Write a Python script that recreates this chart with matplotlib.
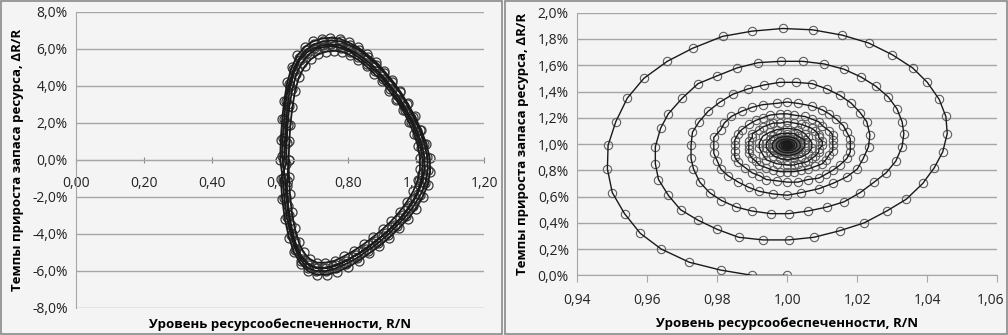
import numpy as np
import matplotlib
matplotlib.use('Agg')
import matplotlib.pyplot as plt
import matplotlib.transforms as mtransforms
from matplotlib.ticker import FuncFormatter, MultipleLocator
from matplotlib.patches import Rectangle

plt.rcParams['font.family'] = ['Open Sans', 'DejaVu Sans']

# ---- left panel: limit cycle, several turns (R/N, dR/R in %)
loop_b_x = [0.612, 0.614, 0.617, 0.622, 0.630, 0.642, 0.658, 0.678, 0.700, 0.725, 0.750, 0.775, 0.800, 0.826, 0.852,
            0.877, 0.900, 0.922, 0.945, 0.965, 0.985, 1.003, 1.016, 1.024, 1.025, 1.018, 1.004, 0.985, 0.962, 0.937,
            0.910, 0.882, 0.853, 0.823, 0.793, 0.763, 0.735, 0.708, 0.685, 0.665, 0.648, 0.635, 0.625, 0.618, 0.614]
loop_b_y = [0.0, 1.0, 2.0, 3.0, 4.0, 4.8, 5.4, 5.8, 6.05, 6.2, 6.25, 6.2, 6.0, 5.75, 5.4,
            5.0, 4.55, 4.05, 3.5, 2.9, 2.25, 1.55, 0.85, 0.15, -0.55, -1.2, -1.85, -2.45, -3.0, -3.5,
            -3.95, -4.4, -4.8, -5.15, -5.45, -5.7, -5.85, -5.85, -5.7, -5.35, -4.8, -4.0, -3.0, -2.0, -1.0]
loop_d_x = [0.606, 0.608, 0.612, 0.617, 0.626, 0.639, 0.656, 0.677, 0.700, 0.726, 0.752, 0.778, 0.804, 0.831, 0.858,
            0.883, 0.906, 0.928, 0.951, 0.972, 0.992, 1.010, 1.024, 1.033, 1.034, 1.027, 1.012, 0.992, 0.969, 0.943,
            0.916, 0.887, 0.857, 0.826, 0.795, 0.764, 0.735, 0.706, 0.682, 0.662, 0.645, 0.631, 0.620, 0.612, 0.608]
loop_d_y = [0.2, 1.2, 2.2, 3.2, 4.1, 4.9, 5.5, 5.95, 6.25, 6.4, 6.45, 6.4, 6.2, 5.95, 5.55,
            5.15, 4.7, 4.2, 3.65, 3.0, 2.3, 1.6, 0.85, 0.15, -0.55, -1.25, -1.9, -2.5, -3.05, -3.55,
            -4.05, -4.5, -4.9, -5.3, -5.6, -5.85, -6.0, -6.0, -5.85, -5.45, -4.85, -4.05, -3.1, -2.05, -1.0]
loop_a_x = [0.600, 0.602, 0.606, 0.612, 0.621, 0.634, 0.651, 0.672, 0.696, 0.722, 0.748, 0.775, 0.801, 0.828, 0.856,
            0.882, 0.906, 0.929, 0.953, 0.975, 0.996, 1.015, 1.030, 1.040, 1.041, 1.034, 1.019, 0.999, 0.975, 0.949,
            0.921, 0.892, 0.862, 0.831, 0.799, 0.767, 0.737, 0.707, 0.681, 0.660, 0.641, 0.626, 0.614, 0.606, 0.602]
loop_a_y = [0.0, 1.1, 2.2, 3.2, 4.2, 5.0, 5.65, 6.1, 6.4, 6.55, 6.6, 6.55, 6.35, 6.1, 5.7,
            5.3, 4.8, 4.3, 3.7, 3.05, 2.35, 1.6, 0.85, 0.1, -0.65, -1.35, -2.0, -2.65, -3.2, -3.7,
            -4.2, -4.65, -5.05, -5.45, -5.8, -6.05, -6.2, -6.2, -6.0, -5.6, -5.0, -4.2, -3.2, -2.1, -1.05]
loop_e_x = [0.618, 0.619, 0.622, 0.627, 0.636, 0.648, 0.664, 0.684, 0.706, 0.730, 0.755, 0.780, 0.805, 0.830, 0.855,
            0.879, 0.902, 0.924, 0.945, 0.966, 0.985, 1.001, 1.013, 1.019, 1.018, 1.010, 0.995, 0.976, 0.953, 0.928,
            0.901, 0.872, 0.843, 0.813, 0.784, 0.755, 0.727, 0.701, 0.678, 0.659, 0.644, 0.632, 0.624, 0.620]
loop_e_y = [-0.2, 0.9, 1.9, 2.9, 3.85, 4.65, 5.25, 5.7, 6.0, 6.1, 6.15, 6.05, 5.85, 5.55, 5.2,
            4.8, 4.35, 3.85, 3.3, 2.7, 2.05, 1.35, 0.65, -0.05, -0.75, -1.4, -2.05, -2.6, -3.15, -3.65,
            -4.1, -4.5, -4.9, -5.25, -5.55, -5.75, -5.85, -5.8, -5.55, -5.1, -4.4, -3.5, -2.5, -1.4]
loop_c_x = [0.625, 0.627, 0.630, 0.636, 0.644, 0.656, 0.672, 0.691, 0.712, 0.735, 0.758, 0.782, 0.806, 0.830, 0.854,
            0.877, 0.899, 0.920, 0.941, 0.960, 0.978, 0.994, 1.005, 1.011, 1.011, 1.004, 0.991, 0.973, 0.951, 0.927,
            0.901, 0.874, 0.846, 0.817, 0.788, 0.760, 0.733, 0.708, 0.687, 0.669, 0.655, 0.643, 0.634, 0.629, 0.626, 0.625]
loop_c_y = [0.0, 1.0, 1.9, 2.85, 3.75, 4.5, 5.05, 5.45, 5.7, 5.85, 5.9, 5.85, 5.65, 5.4, 5.05,
            4.65, 4.25, 3.75, 3.25, 2.7, 2.05, 1.4, 0.75, 0.1, -0.5, -1.1, -1.7, -2.25, -2.8, -3.3,
            -3.75, -4.15, -4.55, -4.9, -5.2, -5.45, -5.55, -5.55, -5.35, -5.0, -4.45, -3.7, -2.8, -1.85, -0.9, 0.0]

# ---- right panel: damped spiral towards (1.00; 1.0%)
spiral_x = [
    # turn 1
    1.000, 0.990, 0.981, 0.972, 0.964, 0.958, 0.9535, 0.950, 0.9486, 0.9488, 0.951, 0.9543, 0.959, 0.9657, 0.973,
    0.9815, 0.990, 0.9987, 1.0072, 1.0156, 1.0232, 1.030, 1.0358, 1.040, 1.0434, 1.0453, 1.0457, 1.0444, 1.042,
    1.0387, 1.034, 1.0284, 1.022, 1.015, 1.0076,
    # turn 2
    1.0004, 0.9931, 0.9861, 0.980, 0.9745, 0.9695, 0.966, 0.9632, 0.9623, 0.9623, 0.9638, 0.966, 0.970, 0.9745,
    0.980, 0.9857, 0.9917, 0.9981, 1.0044, 1.0105, 1.0162, 1.0211, 1.0253, 1.0288, 1.0313, 1.0328, 1.0333, 1.0328,
    1.0310, 1.0282, 1.0248, 1.0208, 1.0162, 1.0113, 1.0059,
    # turn 3
    1.0004, 0.9953, 0.9899, 0.9854, 0.9812, 0.9778, 0.975, 0.9732, 0.9725, 0.9725, 0.9729, 0.9748, 0.9774, 0.9808,
    0.9845, 0.9888, 0.9934, 0.9979, 1.0025, 1.0071, 1.0113, 1.0151, 1.0183, 1.0208, 1.0227, 1.0236, 1.0232, 1.0217,
    1.020, 1.017, 1.013, 1.009, 1.004,
    # turn 4
    1.000, 0.996, 0.992, 0.989, 0.986, 0.983, 0.981, 0.980, 0.979, 0.979, 0.979, 0.981, 0.982, 0.984, 0.987, 0.990,
    0.993, 0.997, 1.000, 1.003, 1.007, 1.010, 1.012, 1.014, 1.016, 1.017, 1.018, 1.018, 1.018, 1.017, 1.015, 1.013,
    1.011, 1.009, 1.006, 1.003,
    # turn 5
    1.000, 0.997, 0.994, 0.992, 0.990, 0.988, 0.986, 0.985, 0.985, 0.985, 0.985, 0.986, 0.987, 0.989, 0.991, 0.993,
    0.995, 0.998, 1.000, 1.002, 1.005, 1.007, 1.009, 1.010, 1.012, 1.013, 1.013, 1.013, 1.013, 1.012, 1.011, 1.010,
    1.008, 1.006, 1.004, 1.002,
    # turn 6
    1.000, 0.998, 0.996, 0.994, 0.992, 0.991, 0.990, 0.989, 0.989, 0.989, 0.989, 0.990, 0.990, 0.992, 0.993, 0.995,
    0.996, 0.998, 1.000, 1.002, 1.004, 1.005, 1.007, 1.008, 1.009, 1.009, 1.010, 1.010, 1.009, 1.009, 1.008, 1.007,
    1.006, 1.005, 1.003, 1.002,
    # turn 7
    1.000, 0.997, 0.994, 0.993, 0.992, 0.992, 0.993, 0.995, 0.997, 1.000, 1.003, 1.005, 1.006, 1.007, 1.007, 1.006,
    1.004, 1.002,
    # turn 8
    1.000, 0.998, 0.996, 0.995, 0.994, 0.994, 0.995, 0.996, 0.998, 1.000, 1.002, 1.003, 1.005, 1.005, 1.005, 1.004,
    1.003, 1.002,
    # turn 9
    1.000, 0.9984, 0.9971, 0.9962, 0.9957, 0.9957, 0.9963, 0.9973, 0.9986, 1.000, 1.0014, 1.0025, 1.0033, 1.0037,
    1.0037, 1.0032, 1.0023, 1.0012,
    # turn 10
    1.000, 0.9988, 0.9979, 0.9972, 0.9969, 0.9969, 0.9973, 0.9980, 0.9990, 1.000, 1.0010, 1.0018, 1.0024, 1.0027,
    1.0027, 1.0023, 1.0017, 1.0009,
    # turn 11
    1.000, 0.9991, 0.9985, 0.9980, 0.9977, 0.9977, 0.9980, 0.9985, 0.9993, 1.000, 1.0007, 1.0013, 1.0018, 1.0020,
    1.0020, 1.0017, 1.0012, 1.0007,
    # turn 12
    1.000, 0.9993, 0.9989, 0.9985, 0.9983, 0.9983, 0.9985, 0.9989, 0.9995, 1.000, 1.0005, 1.0009, 1.0013, 1.0015,
    1.0015, 1.0012, 1.0009, 1.0005,
    # turn 13
    1.000, 0.9995, 0.9992, 0.9989, 0.9988, 0.9988, 0.9989, 0.9992, 0.9996, 1.000, 1.0004, 1.0007, 1.0009, 1.0011,
    1.0011, 1.0009, 1.0007, 1.0004,
    # turn 14 and the end
    1.000, 0.9996, 0.9994, 0.9992, 0.9991, 0.9991, 0.9992, 0.9994, 0.9997, 1.000, 1.0003, 1.0005, 1.0007, 1.0008,
    1.0008, 1.0007, 1.0005, 1.0003,
    1.000, 0.9997, 0.9995, 0.9994, 0.9996, 1.000, 1.0004, 1.0005, 1.0003, 1.000, 1.000]
spiral_y = [
    0.00, 0.00, 0.04, 0.10, 0.20, 0.32, 0.47, 0.63, 0.81, 0.99, 1.17, 1.35, 1.50, 1.63, 1.73,
    1.82, 1.86, 1.88, 1.87, 1.83, 1.77, 1.68, 1.58, 1.47, 1.34, 1.21, 1.08, 0.94, 0.82,
    0.70, 0.58, 0.49, 0.40, 0.34, 0.29,
    0.27, 0.27, 0.29, 0.35, 0.42, 0.50, 0.61, 0.73, 0.85, 0.98, 1.12, 1.23, 1.35, 1.46,
    1.52, 1.58, 1.62, 1.63, 1.63, 1.61, 1.57, 1.51, 1.44, 1.36, 1.27, 1.17, 1.08, 0.98,
    0.87, 0.78, 0.71, 0.63, 0.56, 0.52, 0.49,
    0.47, 0.47, 0.49, 0.52, 0.57, 0.63, 0.71, 0.81, 0.89, 0.99, 1.09, 1.17, 1.25, 1.32,
    1.38, 1.42, 1.45, 1.47, 1.47, 1.46, 1.42, 1.37, 1.31, 1.24, 1.17, 1.07, 0.98, 0.89,
    0.81, 0.75, 0.70, 0.66, 0.63,
    0.61, 0.62, 0.64, 0.67, 0.71, 0.76, 0.81, 0.87, 0.93, 0.99, 1.05, 1.11, 1.16, 1.21, 1.25, 1.28,
    1.30, 1.31, 1.32, 1.31, 1.29, 1.26, 1.23, 1.19, 1.14, 1.09, 1.04, 0.99, 0.94, 0.89, 0.84, 0.80,
    0.77, 0.74, 0.73, 0.71,
    0.71, 0.72, 0.73, 0.76, 0.78, 0.82, 0.86, 0.90, 0.95, 0.99, 1.03, 1.08, 1.11, 1.15, 1.18, 1.20,
    1.22, 1.23, 1.23, 1.22, 1.21, 1.19, 1.17, 1.14, 1.10, 1.07, 1.03, 0.99, 0.95, 0.92, 0.88, 0.85,
    0.83, 0.81, 0.80, 0.79,
    0.79, 0.79, 0.80, 0.82, 0.84, 0.87, 0.89, 0.93, 0.96, 0.99, 1.02, 1.05, 1.08, 1.11, 1.13, 1.15,
    1.16, 1.16, 1.17, 1.16, 1.15, 1.14, 1.12, 1.10, 1.07, 1.05, 1.02, 0.99, 0.96, 0.94, 0.91, 0.89,
    0.87, 0.86, 0.85, 0.84,
    0.84, 0.85, 0.88, 0.92, 0.97, 1.01, 1.06, 1.09, 1.11, 1.12, 1.11, 1.08, 1.05, 1.01, 0.97, 0.93,
    0.90, 0.89,
    0.88, 0.89, 0.91, 0.94, 0.97, 1.01, 1.04, 1.06, 1.08, 1.08, 1.08, 1.06, 1.03, 1.01, 0.98, 0.95,
    0.93, 0.92,
    0.912, 0.918, 0.933, 0.953, 0.977, 1.003, 1.025, 1.044, 1.054, 1.057, 1.052, 1.040, 1.022, 1.001,
    0.979, 0.959, 0.945, 0.935,
    0.933, 0.937, 0.948, 0.963, 0.9805, 0.9995, 1.016, 1.029, 1.037, 1.039, 1.035, 1.027, 1.013, 0.998,
    0.982, 0.967, 0.957, 0.950,
    0.948, 0.951, 0.959, 0.970, 0.983, 0.997, 1.009, 1.018, 1.024, 1.026, 1.023, 1.017, 1.007, 0.996,
    0.984, 0.973, 0.966, 0.961,
    0.959, 0.962, 0.967, 0.975, 0.985, 0.995, 1.004, 1.010, 1.015, 1.016, 1.014, 1.010, 1.002, 0.994,
    0.986, 0.978, 0.972, 0.969,
    0.968, 0.970, 0.973, 0.979, 0.986, 0.994, 1.000, 1.005, 1.008, 1.009, 1.008, 1.004, 0.999, 0.993,
    0.987, 0.981, 0.977, 0.975,
    0.974, 0.975, 0.978, 0.982, 0.987, 0.993, 0.997, 1.001, 1.003, 1.004, 1.003, 1.000, 0.997, 0.992,
    0.988, 0.983, 0.980, 0.979,
    0.979, 0.981, 0.986, 0.990, 0.996, 0.999, 0.997, 0.990, 0.984, 0.982, 0.990]

left_x = loop_b_x + loop_d_x + loop_a_x + loop_e_x + loop_c_x
left_y = loop_b_y + loop_d_y + loop_a_y + loop_e_y + loop_c_y

xlabel = 'Уровень ресурсообеспеченности, R/N'
ylabel = 'Темпы прироста запаса ресурса, ΔR/R'

bg = '#f4f4f4'
grid_c = '#a6a6a6'
line_c = '#1a1a1a'
mark_c = '#5e5e5e'

fig = plt.figure(figsize=(10.08, 3.35), dpi=100)
fig.patch.set_facecolor(bg)

def pct(v, pos):
    return ('%.1f%%' % v).replace('.', ',')

def dec(v, pos):
    return ('%.2f' % v).replace('.', ',')

def style(ax):
    ax.set_facecolor(bg)
    for s in ['top', 'right']:
        ax.spines[s].set_visible(False)
    ax.spines['left'].set_color(grid_c)
    ax.spines['bottom'].set_color(grid_c)
    ax.yaxis.grid(True, color=grid_c, lw=1)
    ax.set_axisbelow(True)
    ax.tick_params(axis='y', length=0, labelsize=10, pad=6, colors='#222222')
    ax.tick_params(axis='x', direction='inout', length=5, color=grid_c, labelsize=10, colors='#222222')
    ax.yaxis.set_major_formatter(FuncFormatter(pct))
    ax.xaxis.set_major_formatter(FuncFormatter(dec))

# left panel
ax1 = fig.add_axes([0.0754, 0.0806, 0.405, 0.884])
style(ax1)
ax1.plot(left_x, left_y, 'o', ms=6.5, mfc='none', mec='#3a3a3a', mew=0.9, zorder=2)
ax1.plot(left_x, left_y, '-', color='#1a1a1a', lw=1.3, zorder=3)
ax1.set_xlim(0, 1.2)
ax1.set_ylim(-8, 8)
ax1.xaxis.set_major_locator(MultipleLocator(0.2))
ax1.yaxis.set_major_locator(MultipleLocator(2))
ax1.spines['bottom'].set_position(('data', 0))
ax1.tick_params(axis='x', pad=9, color='#888888')
ax1.set_ylabel(ylabel, fontsize=9.5, fontweight='bold', labelpad=6)
ax1.text(0.5, -0.035, xlabel, transform=ax1.transAxes, ha='center', va='top', fontsize=9.5, fontweight='bold')

# right panel: open markers under the dark line, so the dense centre goes dark
ax2 = fig.add_axes([0.5727, 0.178, 0.4167, 0.784])
style(ax2)
ax2.plot(spiral_x, spiral_y, 'o', ms=6, mfc='none', mec=mark_c, mew=0.8, zorder=2)
ax2.plot(spiral_x, spiral_y, '-', color=line_c, lw=1.0, zorder=3)
ax2.set_xlim(0.94, 1.06)
ax2.set_ylim(0, 2.0)
ax2.xaxis.set_major_locator(MultipleLocator(0.02))
ax2.yaxis.set_major_locator(MultipleLocator(0.2))
ax2.tick_params(axis='x', direction='out', pad=8)
ax2.set_ylabel(ylabel, fontsize=9.5, fontweight='bold', labelpad=6)
ax2.set_xlabel(xlabel, fontsize=9.5, fontweight='bold', labelpad=6)

# panel frames
fig.patches.append(Rectangle((0.001, 0.003), 0.497, 0.994, transform=fig.transFigure,
                             fill=False, ec='#8a8a8a', lw=1.2))
fig.patches.append(Rectangle((0.501, 0.003), 0.498, 0.994, transform=fig.transFigure,
                             fill=False, ec='#8a8a8a', lw=1.2))

# keep the last x label of the right panel inside the picture
fig.canvas.draw()
shift = mtransforms.ScaledTranslation(-7 / 100, 0, fig.dpi_scale_trans)
for lab in ax2.get_xticklabels():
    if lab.get_text() == '1,06':
        lab.set_transform(lab.get_transform() + shift)

fig.savefig('out.png', dpi=100, facecolor=bg)
